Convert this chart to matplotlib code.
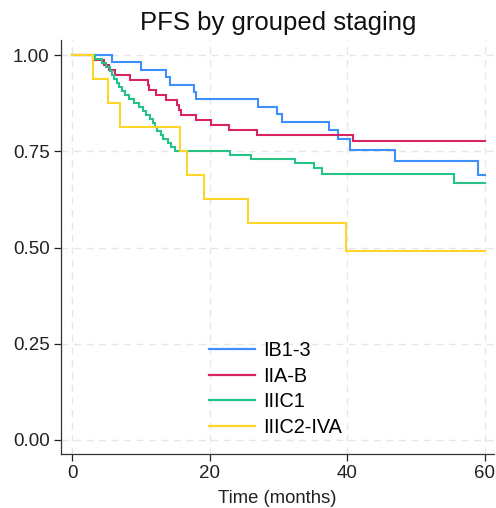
import matplotlib
matplotlib.use("Agg")
import matplotlib.pyplot as plt

plt.rcParams['font.family'] = ['Liberation Sans', 'DejaVu Sans']

# ---- data ----
groups = ["IB1-3", "IIA-B", "IIIC1", "IIIC2-IVA"]
colors = ["#3d8ffc", "#d8245f", "#25c486", "#ffd52a"]

ib_times = [5.8, 10.0, 13.7, 14.3, 17.8, 18.1, 27.0, 29.8, 30.6, 37.4, 38.7, 40.4, 47.0, 59.1]
ib_surv = [0.981, 0.962, 0.942, 0.923, 0.904, 0.885, 0.866, 0.846, 0.827, 0.805, 0.781, 0.753, 0.725, 0.689]

iia_times = [3.0, 4.7, 5.4, 6.2, 8.4, 11.0, 11.2, 12.2, 13.6, 15.2, 15.5, 15.9, 18.0, 20.2, 22.8, 26.9, 40.9]
iia_surv = [0.987, 0.974, 0.961, 0.948, 0.935, 0.922, 0.909, 0.896, 0.883, 0.870, 0.857, 0.844, 0.831, 0.818, 0.805, 0.792, 0.777]

iiic1_times = [3.3, 4.3, 5.0, 5.5, 5.8, 6.1, 6.5, 6.9, 7.3, 7.7, 8.3, 9.0, 9.7, 10.3, 10.8, 11.3, 11.8, 12.0,
               12.4, 12.9, 13.3, 13.9, 14.4, 15.0, 23.0, 26.0, 32.4, 35.2, 36.3, 55.6]
iiic1_surv = [0.990, 0.979, 0.969, 0.958, 0.948, 0.938, 0.927, 0.917, 0.906, 0.896, 0.885, 0.875, 0.865, 0.854,
              0.844, 0.833, 0.823, 0.813, 0.802, 0.792, 0.781, 0.771, 0.760, 0.750, 0.740, 0.729, 0.719, 0.706,
              0.691, 0.667]

iiic2_times = [3.1, 5.2, 7.0, 15.7, 16.7, 19.2, 25.6, 39.8]
iiic2_surv = [0.9375, 0.875, 0.8125, 0.75, 0.6875, 0.625, 0.5625, 0.492]

max_time = 60
x_ticks = [0, 20, 40, 60]
y_ticks = [0.0, 0.25, 0.5, 0.75, 1.0]
y_ticklabels = ["0.00", "0.25", "0.50", "0.75", "1.00"]

series = [(ib_times, ib_surv), (iia_times, iia_surv), (iiic1_times, iiic1_surv), (iiic2_times, iiic2_surv)]

W, H = 496, 508
fig = plt.figure(figsize=(W / 100, H / 100), dpi=100)
left_px, right_px, top_px, bot_px = 60.7, 494, 40, 454
ax = fig.add_axes([left_px / W, 1 - bot_px / H, (right_px - left_px) / W, (bot_px - top_px) / H])

for name, col, (t, s) in zip(groups, colors, series):
    xs = [0] + list(t) + [max_time]
    ys = [1.0] + list(s) + [s[-1]]
    ax.step(xs, ys, where="post", color=col, lw=1.5, label=name, solid_joinstyle="miter")

# axis limits matched to pixel mapping
px_per_month = 6.875
x0_px = 72
ax.set_xlim((left_px - x0_px) / px_per_month, (right_px - x0_px) / px_per_month)
px_per_unit = 385
y0_px = 440
ax.set_ylim((y0_px - bot_px) / px_per_unit, (y0_px - top_px) / px_per_unit)

ax.set_xticks(x_ticks)
ax.set_yticks(y_ticks)
ax.set_yticklabels(y_ticklabels)
ax.tick_params(axis="both", labelsize=13.5, colors="#222222", length=5, width=0.9, direction="out", pad=3)

ax.grid(True, color="#e6e6e6", linestyle=(0, (5, 4)), linewidth=1.0)
ax.set_axisbelow(True)
for side in ["top", "right"]:
    ax.spines[side].set_visible(False)
for side in ["left", "bottom"]:
    ax.spines[side].set_color("#333333")
    ax.spines[side].set_linewidth(0.9)

ax.set_xlabel("Time (months)", fontsize=13.3, color="#222222", labelpad=6)
fig.suptitle("PFS by grouped staging", fontsize=18.5, x=278 / W, y=1 - 11 / H, va="top", color="#111111")

leg = ax.legend(loc="center left", bbox_to_anchor=(209 / W, 1 - 389 / H), bbox_transform=fig.transFigure,
                frameon=False, fontsize=14.3, handlelength=2.3, handletextpad=0.45, labelspacing=0.33,
                borderpad=0, borderaxespad=0)
for line in leg.get_lines():
    line.set_linewidth(1.6)

fig.savefig("out.png", dpi=100, facecolor="white")
